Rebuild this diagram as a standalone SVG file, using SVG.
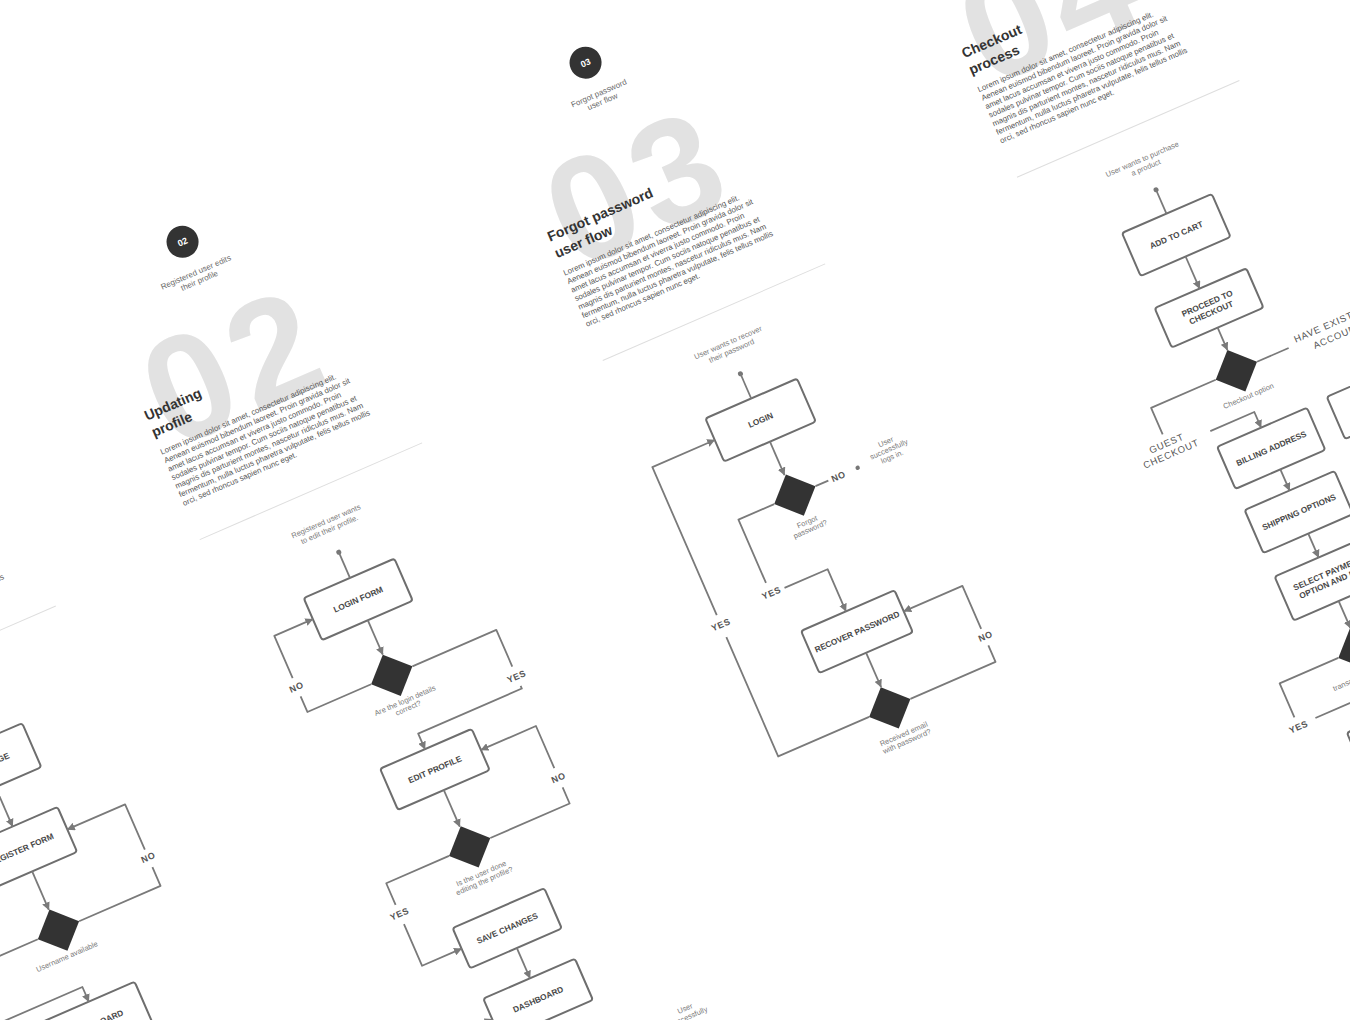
<svg xmlns="http://www.w3.org/2000/svg" width="1350" height="1020" viewBox="0 0 1350 1020">
<style>
text{font-family:"Liberation Sans",Arial,sans-serif}
.box{fill:#fff;stroke:#6e6e6e;stroke-width:2}
.dia{fill:#333}
.lbl{font-size:8.3px;font-weight:bold;fill:#474747;text-anchor:middle}
.cap{font-size:7.5px;fill:#7a7a7a;text-anchor:middle}
.br{font-size:9px;font-weight:600;fill:#555;text-anchor:middle;letter-spacing:.6px}
.br2{font-size:9.5px;fill:#555;text-anchor:middle;letter-spacing:.8px}
.conn{fill:none;stroke:#7a7a7a;stroke-width:1.8;stroke-linejoin:round}
.arr{marker-end:url(#ah)}
.dot{fill:#777}
.big{font-size:150px;font-weight:bold;fill:#e2e2e2;letter-spacing:7.6px}
.title{font-size:14px;font-weight:bold;fill:#333}
.lorem{font-size:7.85px;fill:#555}
.sub{font-size:8px;fill:#6a6a6a;text-anchor:middle}
.num{font-size:9px;font-weight:bold;fill:#fff;text-anchor:middle}
.sep{stroke:#dedede;stroke-width:1}
</style>
<defs>
<marker id="ah" markerUnits="userSpaceOnUse" markerWidth="8" markerHeight="8" refX="7.5" refY="4" orient="auto">
<path d="M0,0 L8,4 L0,8 z" fill="#7a7a7a"/>
</marker>
</defs>
<rect width="1350" height="1020" fill="#fff"/>
<g transform="rotate(-23.5)">

<!-- ===== COLUMN 01 ===== -->
<g id="col01" transform="translate(-330,298)">
  <g id="c1-intro">
    <text class="lorem" x="-104" y="234.5">fermentum, nulla luctus pharetra vulputate, felis tellus mollis</text>
    <line class="sep" x1="-103" y1="280" x2="139.5" y2="280"/>
  </g>
  <g id="c1-home"><rect class="box" x="-38" y="374" width="100" height="48" rx="3"/><text class="lbl" x="12" y="401">HOME PAGE</text></g>
  <g id="c1-register"><rect class="box" x="-39" y="465" width="100" height="49" rx="3"/><text class="lbl" x="11" y="492.5">REGISTER FORM</text></g>
  <g id="c1-decision"><polygon class="dia" points="12.7,555.9 35.2,578.4 12.7,600.9 -9.8,578.4"/><text class="cap" x="10" y="608.5">Username available</text></g>
  <g id="c1-dashboard"><rect class="box" x="-38" y="656" width="100" height="46" rx="3"/><text class="lbl" x="12" y="682">DASHBOARD</text></g>
</g>

<!-- ===== COLUMN 02 ===== -->
<g id="col02" transform="translate(71,294.5)">
  <g id="c2-intro">
    <circle cx="0" cy="0" r="16" fill="#333"/>
    <text class="num" x="0" y="3.2">02</text>
    <text class="sub" x="0" y="36">Registered user edits</text>
    <text class="sub" x="0" y="45">their profile</text>
    <text class="big" x="-92.7" y="187">02</text>
    <text class="title" x="-104" y="150">Updating</text>
    <text class="title" x="-104" y="168">profile</text>
    <text class="lorem" x="-104" y="187">
      <tspan x="-104" dy="0">Lorem ipsum dolor sit amet, consectetur adipiscing elit.</tspan>
      <tspan x="-104" dy="9.3">Aenean euismod bibendum laoreet. Proin gravida dolor sit</tspan>
      <tspan x="-104" dy="9.3">amet lacus accumsan et viverra justo commodo. Proin</tspan>
      <tspan x="-104" dy="9.3">sodales pulvinar tempor. Cum sociis natoque penatibus et</tspan>
      <tspan x="-104" dy="9.3">magnis dis parturient montes, nascetur ridiculus mus. Nam</tspan>
      <tspan x="-104" dy="9.3">fermentum, nulla luctus pharetra vulputate, felis tellus mollis</tspan>
      <tspan x="-104" dy="9.3">orci, sed rhoncus sapien nunc eget.</tspan>
    </text>
    <line class="sep" x1="-103" y1="280" x2="139.5" y2="280"/>
    <text class="cap" x="20" y="316">Registered user wants</text>
    <text class="cap" x="20" y="325">to edit their profile.</text>
  </g>
  <g id="c2-start"><circle class="dot" cx="19.5" cy="347" r="2.5"/></g>
  <g id="c2-login"><rect class="box" x="-31" y="375" width="99" height="46" rx="3"/><text class="lbl" x="18.5" y="401">LOGIN FORM</text></g>
  <g id="c2-decision1"><polygon class="dia" points="19,458.5 41.5,481 19,503.5 -3.5,481"/><text class="cap" x="21" y="512">Are the login details</text><text class="cap" x="21" y="520">correct?</text></g>
  <g id="c2-edit"><rect class="box" x="-29" y="562" width="100" height="45" rx="3"/><text class="lbl" x="21" y="587.5">EDIT PROFILE</text></g>
  <g id="c2-decision2"><polygon class="dia" points="22,647 44.5,669.5 22,692 -0.5,669.5"/><text class="cap" x="22" y="701">Is  the user done</text><text class="cap" x="22" y="709">editing the profile?</text></g>
  <g id="c2-save"><rect class="box" x="-26" y="737" width="100" height="44" rx="3"/><text class="lbl" x="24" y="762">SAVE CHANGES</text></g>
  <g id="c2-dashboard"><rect class="box" x="-26" y="814" width="100" height="45" rx="3"/><text class="lbl" x="24" y="839.5">DASHBOARD</text></g>
  <g id="c2-end"><text class="cap" x="155" y="906">User</text><text class="cap" x="155" y="915">successfully</text></g>
</g>

<!-- ===== COLUMN 03 ===== -->
<g id="col03" transform="translate(512,291)">
  <g id="c3-intro">
    <circle cx="0" cy="0" r="16" fill="#333"/>
    <text class="num" x="0" y="3.2">03</text>
    <text class="sub" x="0" y="36">Forgot password</text>
    <text class="sub" x="0" y="45">user flow</text>
    <text class="big" x="-92.7" y="187">03</text>
    <text class="title" x="-104" y="150">Forgot password</text>
    <text class="title" x="-104" y="168">user flow</text>
    <text class="lorem" x="-104" y="187">
      <tspan x="-104" dy="0">Lorem ipsum dolor sit amet, consectetur adipiscing elit.</tspan>
      <tspan x="-104" dy="9.3">Aenean euismod bibendum laoreet. Proin gravida dolor sit</tspan>
      <tspan x="-104" dy="9.3">amet lacus accumsan et viverra justo commodo. Proin</tspan>
      <tspan x="-104" dy="9.3">sodales pulvinar tempor. Cum sociis natoque penatibus et</tspan>
      <tspan x="-104" dy="9.3">magnis dis parturient montes, nascetur ridiculus mus. Nam</tspan>
      <tspan x="-104" dy="9.3">fermentum, nulla luctus pharetra vulputate, felis tellus mollis</tspan>
      <tspan x="-104" dy="9.3">orci, sed rhoncus sapien nunc eget.</tspan>
    </text>
    <line class="sep" x1="-103" y1="280" x2="139.5" y2="280"/>
    <text class="cap" x="19" y="316">User wants to recover</text>
    <text class="cap" x="19" y="325">their password</text>
  </g>
  <g id="c3-start"><circle class="dot" cx="18" cy="347" r="2.5"/></g>
  <g id="c3-login"><rect class="box" x="-32" y="374" width="100" height="47" rx="3"/><text class="lbl" x="18" y="400.5">LOGIN</text></g>
  <g id="c3-decision1"><polygon class="dia" points="19.5,457.5 42,480 19.5,502.5 -3,480"/><text class="cap" x="20" y="512">Forgot</text><text class="cap" x="20" y="520">password?</text></g>
  <g id="c3-end"><circle class="dot" cx="88" cy="480" r="2.2"/><text class="cap" x="124" y="470">User</text><text class="cap" x="124" y="478">successfully</text><text class="cap" x="124" y="486">logs in.</text></g>
  <g id="c3-recover"><rect class="box" x="-29" y="607" width="102" height="46" rx="3"/><text class="lbl" x="22" y="633">RECOVER PASSWORD</text></g>
  <g id="c3-decision2"><polygon class="dia" points="21.7,690.5 44.2,713 21.7,735.5 -0.8,713"/><text class="cap" x="24" y="745">Received email</text><text class="cap" x="24" y="753">with password?</text></g>
</g>

<!-- ===== COLUMN 04 ===== -->
<g id="col04" transform="translate(965,288)">
  <g id="c4-intro">
    <text class="big" x="-92.7" y="187">04</text>
    <text class="title" x="-104" y="150">Checkout</text>
    <text class="title" x="-104" y="168">process</text>
    <text class="lorem" x="-104" y="187">
      <tspan x="-104" dy="0">Lorem ipsum dolor sit amet, consectetur adipiscing elit.</tspan>
      <tspan x="-104" dy="9.3">Aenean euismod bibendum laoreet. Proin gravida dolor sit</tspan>
      <tspan x="-104" dy="9.3">amet lacus accumsan et viverra justo commodo. Proin</tspan>
      <tspan x="-104" dy="9.3">sodales pulvinar tempor. Cum sociis natoque penatibus et</tspan>
      <tspan x="-104" dy="9.3">magnis dis parturient montes, nascetur ridiculus mus. Nam</tspan>
      <tspan x="-104" dy="9.3">fermentum, nulla luctus pharetra vulputate, felis tellus mollis</tspan>
      <tspan x="-104" dy="9.3">orci, sed rhoncus sapien nunc eget.</tspan>
    </text>
    <line class="sep" x1="-103" y1="280" x2="139.5" y2="280"/>
    <text class="cap" x="19" y="316">User wants to purchase</text>
    <text class="cap" x="19" y="325">a product</text>
  </g>
  <g id="c4-start"><circle class="dot" cx="19.5" cy="347" r="2.5"/></g>
  <g id="c4-cart"><rect class="box" x="-29" y="373" width="98" height="47" rx="3"/><text class="lbl" x="20" y="399.5">ADD TO CART</text></g>
  <g id="c4-proceed"><rect class="box" x="-29" y="455" width="100" height="43" rx="3"/><text class="lbl" x="21" y="474.5">PROCEED TO</text><text class="lbl" x="21" y="484.5">CHECKOUT</text></g>
  <g id="c4-decision1"><polygon class="dia" points="21,522.5 43.5,545 21,567.5 -1.5,545"/><text class="cap" x="22" y="575.5">Checkout option</text></g>
  <g id="c4-billing"><rect class="box" x="-27" y="607" width="98" height="46" rx="3"/><text class="lbl" x="22" y="633">BILLING ADDRESS</text></g>
  <g id="c4-account"><rect class="box" x="93.5" y="605" width="100" height="46" rx="3"/></g>
  <g id="c4-shipping"><rect class="box" x="-27" y="676" width="98" height="47" rx="3"/><text class="lbl" x="22" y="702.5">SHIPPING OPTIONS</text></g>
  <g id="c4-payment"><rect class="box" x="-26" y="749" width="100" height="48" rx="3"/><text class="lbl" x="24" y="770">SELECT PAYMENT</text><text class="lbl" x="24" y="780">OPTION AND PAY</text></g>
  <g id="c4-decision2"><polygon class="dia" points="22.5,826.5 45,849 22.5,871.5 0,849"/><text class="cap" x="22" y="878">transaction successful?</text></g>
  <g id="c4-next"><rect class="box" x="-22" y="921" width="100" height="46" rx="3"/></g>
</g>

<!-- ===== CONNECTORS ===== -->
<g id="connectors">
  <g id="c1-links" transform="translate(-330,298)">
    <path class="conn arr" d="M12,422 V465"/>
    <path class="conn arr" d="M12,514 V555.9"/>
    <path class="conn" d="M35.2,578.4 H124 V558"/>
    <text class="br" x="124" y="550.5">NO</text>
    <path class="conn arr" d="M124,539 V489.5 H61"/>
    <path class="conn arr" d="M-9.8,578.4 H-80 V640 H12 V656"/>
  </g>
  <g id="c2-links" transform="translate(71,294.5)">
    <path class="conn" d="M19.5,347 V375"/>
    <path class="conn arr" d="M19,421 V458.5"/>
    <path class="conn" d="M-3.5,481 H-73 V464"/>
    <text class="br" x="-73" y="457">NO</text>
    <path class="conn arr" d="M-73,444 V398 H-31"/>
    <path class="conn" d="M41.5,481 H133 V521"/>
    <text class="br" x="133" y="535">YES</text>
    <path class="conn arr" d="M133,542 V545 H20 V562"/>
    <path class="conn arr" d="M21,607 V647"/>
    <path class="conn" d="M44.5,669.5 H131 V652"/>
    <text class="br" x="131" y="644.5">NO</text>
    <path class="conn arr" d="M131,631 V585 H71"/>
    <path class="conn" d="M-0.5,669.5 H-69 V693"/>
    <text class="br" x="-69" y="706">YES</text>
    <path class="conn arr" d="M-69,714 V759.5 H-26"/>
    <path class="conn arr" d="M25,781 V814"/>
    <path class="conn arr" d="M-70,836.5 H-26"/>
  </g>
  <g id="c3-links" transform="translate(512,291)">
    <path class="conn" d="M18,347 V374"/>
    <path class="conn arr" d="M18,421 V457.5"/>
    <path class="conn" d="M42,480 H56"/>
    <text class="br" x="67" y="483.5">NO</text>
    <path class="conn" d="M-3,480 H-42 V549"/>
    <text class="br" x="-41" y="563.5">YES</text>
    <path class="conn arr" d="M-27,561 H20 V607"/>
    <path class="conn arr" d="M22,653 V690.5"/>
    <path class="conn" d="M44.2,713 H137 V695"/>
    <text class="br" x="138" y="688.5">NO</text>
    <path class="conn arr" d="M137,677 V630 H73"/>
    <path class="conn" d="M-0.8,713 H-100 V583"/>
    <text class="br" x="-100" y="572.5">YES</text>
    <path class="conn arr" d="M-100,559 V397.5 H-32"/>
  </g>
  <g id="c4-links" transform="translate(965,288)">
    <path class="conn" d="M19.5,347 V373"/>
    <path class="conn arr" d="M20,420 V455"/>
    <path class="conn arr" d="M21,498 V522.5"/>
    <path class="conn" d="M43.5,545 H78"/>
    <text class="br2" x="128" y="543">HAVE EXISTING</text>
    <text class="br2" x="128" y="556.5">ACCOUNT</text>
    <path class="conn" d="M-1.5,545 H-72 V574"/>
    <text class="br2" x="-72" y="587">GUEST</text>
    <text class="br2" x="-72" y="598.5">CHECKOUT</text>
    <path class="conn arr" d="M-27,590 H21 V607"/>
    <path class="conn arr" d="M22,653 V676"/>
    <path class="conn arr" d="M22,723 V749"/>
    <path class="conn arr" d="M23,797 V826.5"/>
    <path class="conn" d="M0,849 H-64 V886"/>
    <text class="br" x="-64" y="899.5">YES</text>
    <path class="conn arr" d="M-45,895 H22 V921"/>
  </g>
</g>
</g>
</svg>
